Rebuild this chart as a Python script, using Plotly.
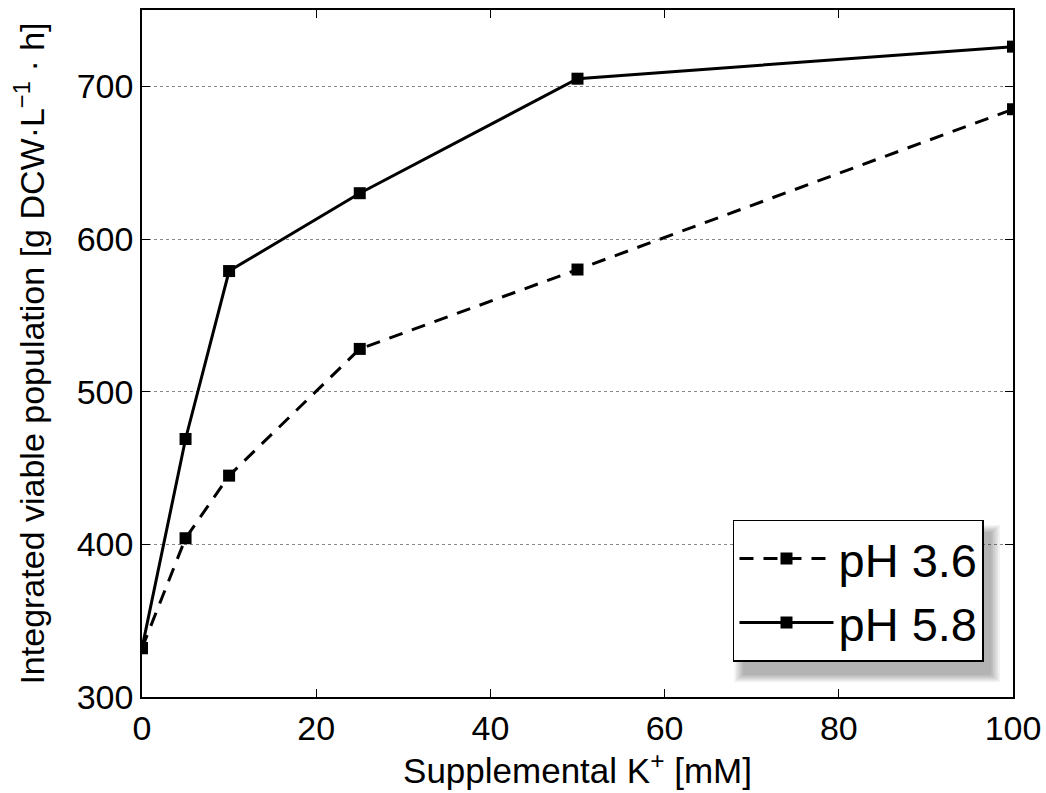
import plotly.graph_objects as go

k_supp = [0, 5, 10, 25, 50, 100]
ph36 = [332, 404, 445, 528, 580, 685]
ph58 = [332, 469, 579, 630, 705, 726]
series_names = ["pH 3.6", "pH 5.8"]
x_ticks = [0, 20, 40, 60, 80, 100]
y_ticks = [300, 400, 500, 600, 700]

fig = go.Figure()
fig.add_trace(go.Scatter(x=k_supp, y=ph36, name=series_names[0], mode="lines+markers",
                         line=dict(color="black", width=3, dash="14px,10px"),
                         marker=dict(symbol="square", size=12, color="black")))
fig.add_trace(go.Scatter(x=k_supp, y=ph58, name=series_names[1], mode="lines+markers",
                         line=dict(color="black", width=3),
                         marker=dict(symbol="square", size=12, color="black")))

font = "Liberation Sans, Arial, Helvetica, sans-serif"
axis_common = dict(showline=True, linecolor="black", linewidth=1.5, mirror="ticks",
                   ticks="inside", ticklen=8, tickwidth=1, tickcolor="black",
                   tickfont=dict(size=34, color="black", family=font), zeroline=False,
                   automargin=False)

fig.update_xaxes(range=[0, 100], tickvals=x_ticks, showgrid=False,
                 title=dict(text="Supplemental K<sup>+</sup> [mM]", font=dict(size=35, color="black", family=font), standoff=4),
                 **axis_common)
fig.update_yaxes(range=[300, 750], tickvals=y_ticks, showgrid=True, gridcolor="#888888",
                 griddash="dot", gridwidth=1,
                 title=dict(text="Integrated viable population [g DCW·L<sup>−1</sup> · h]",
                            font=dict(size=34, color="black", family=font), standoff=22),
                 **axis_common)

# legend shadow (soft, offset down-right)
n = 6
for i in range(n):
    pad = (n - 1 - i) * 0.002
    fig.add_shape(type="rect", xref="paper", yref="paper",
                  x0=0.690 - pad, x1=0.975 + pad,
                  y0=0.032 - pad, y1=0.240 + pad,
                  fillcolor="black", opacity=0.055, line=dict(width=0), layer="above")

fig.update_layout(
    width=1046, height=793,
    margin=dict(l=142, r=33, t=10, b=96),
    plot_bgcolor="white", paper_bgcolor="white",
    font=dict(family=font, color="black"),
    legend=dict(x=0.9667, y=0.051, xanchor="right", yanchor="bottom",
                bgcolor="white", bordercolor="black", borderwidth=1.5,
                font=dict(size=47, color="black", family=font),
                itemwidth=94),
)

fig.write_html("out.html")
